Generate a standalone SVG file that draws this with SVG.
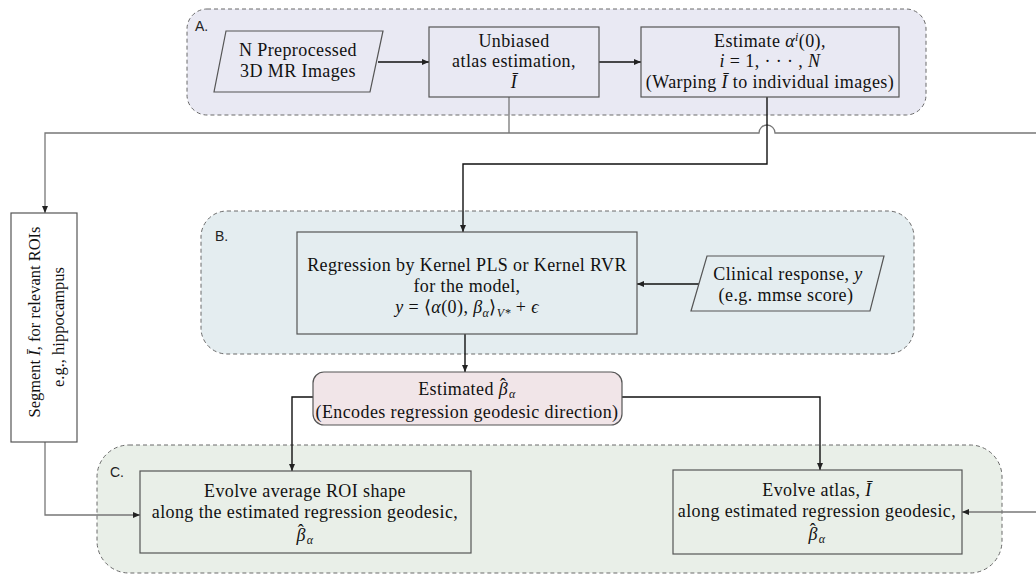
<svg xmlns="http://www.w3.org/2000/svg" width="1036" height="575" viewBox="0 0 1036 575">
<style>
.grp{stroke:#6a6a6a;stroke-width:1;stroke-dasharray:4,3}
.box{fill:none;stroke:#555;stroke-width:1.2}
.t{font-family:"Liberation Serif",serif;font-size:18px;letter-spacing:0.4px;fill:#111;text-anchor:middle}
.sg{font-size:16.5px;letter-spacing:0}
.lab{font-family:"Liberation Sans",sans-serif;font-size:14px;fill:#222}
.c{fill:none;stroke:#111;stroke-width:1.4}
.g{fill:none;stroke:#777;stroke-width:1.3}
.i{font-style:italic}
.s{font-size:12px;font-style:italic}
.h{font-size:18px;font-style:normal;letter-spacing:0}
</style>
<defs>
<marker id="ah" markerWidth="8" markerHeight="8" refX="7" refY="4" orient="auto" markerUnits="userSpaceOnUse">
<path d="M0,1 L7,4 L0,7 Z" fill="#222"/>
</marker>
</defs>
<rect width="1036" height="575" fill="#ffffff"/>
<g id="groupA">
<rect class="grp" x="187" y="9" width="739" height="106" rx="20" fill="#e9e9f3"/>
<text class="lab" x="195" y="31">A.</text>
</g>
<g id="groupB">
<rect class="grp" x="201" y="211" width="713" height="143" rx="26" fill="#e4edf0"/>
<text class="lab" x="215" y="241">B.</text>
</g>
<g id="groupC">
<rect class="grp" x="97" y="445" width="905" height="128" rx="32" fill="#e9efe8"/>
<text class="lab" x="110" y="477">C.</text>
</g>
<g id="connectors">
<line class="c" x1="378" y1="62" x2="429" y2="62" marker-end="url(#ah)"/>
<line class="c" x1="599" y1="62" x2="641" y2="62" marker-end="url(#ah)"/>
<path class="g" d="M509,97 V133"/>
<path class="g" d="M509,133 H45 V213" marker-end="url(#ah)"/>
<path class="g" d="M509,133 H759 A8,8 0 0 1 775,133 H1036"/>
<path class="c" d="M767,97 V164 H463 V232" marker-end="url(#ah)"/>
<line class="c" x1="699" y1="284" x2="637" y2="284" marker-end="url(#ah)"/>
<line class="c" x1="465" y1="334" x2="465" y2="372" marker-end="url(#ah)"/>
<path class="c" d="M313,397 H292 V471" marker-end="url(#ah)"/>
<path class="c" d="M622,397 H820 V470" marker-end="url(#ah)"/>
<path class="g" d="M45,442 V515 H140" marker-end="url(#ah)"/>
<line class="g" x1="1036" y1="512" x2="962" y2="512" marker-end="url(#ah)"/>
</g>
<g id="n1">
<polygon class="box" points="226,31 383,31 370,92 214,92"/>
<text class="t" x="298" y="56">N Preprocessed</text>
<text class="t" x="298" y="77">3D MR Images</text>
</g>
<g id="n2">
<rect class="box" x="429" y="27" width="170" height="70"/>
<text class="t" x="514" y="47">Unbiased</text>
<text class="t" x="514" y="67">atlas estimation,</text>
<text class="t" x="514" y="88"><tspan class="i">Ī</tspan></text>
</g>
<g id="n3">
<rect class="box" x="641" y="27" width="258" height="70"/>
<text class="t" x="770" y="47">Estimate <tspan class="i">α</tspan><tspan class="s" dy="-6">i</tspan><tspan dy="6">(0),</tspan></text>
<text class="t" x="770" y="67"><tspan class="i">i</tspan> = 1, · · · , <tspan class="i">N</tspan></text>
<text class="t" x="770" y="88">(Warping <tspan class="i">Ī</tspan> to individual images)</text>
</g>
<g id="nSeg">
<rect class="box" x="11" y="213" width="66" height="229"/>
<text class="t sg" transform="translate(40,322) rotate(-90)">Segment <tspan class="i">Ī</tspan>, for relevant ROIs</text>
<text class="t sg" transform="translate(64,327) rotate(-90)">e.g., hippocampus</text>
</g>
<g id="nReg">
<rect class="box" x="297" y="232" width="340" height="102"/>
<text class="t" x="467" y="271">Regression by Kernel PLS or Kernel RVR</text>
<text class="t" x="467" y="292">for the model,</text>
<text class="t" x="467" y="313"><tspan class="i">y</tspan> = ⟨<tspan class="i">α</tspan>(0), <tspan class="i">β</tspan><tspan class="s" dy="4">α</tspan><tspan dy="-4">⟩</tspan><tspan class="s" dy="4">V*</tspan><tspan dy="-4"> + </tspan><tspan class="i">ϵ</tspan></text>
</g>
<g id="nClin">
<polygon class="box" points="707,256 884,256 870,311 691,311"/>
<text class="t" x="788" y="280">Clinical response, <tspan class="i">y</tspan></text>
<text class="t" x="786" y="301">(e.g.  mmse score)</text>
</g>
<g id="nBeta">
<rect x="313" y="372" width="309" height="53" rx="11" fill="#f1e5e8" stroke="#555" stroke-width="1.2"/>
<text class="t" x="467" y="395">Estimated <tspan class="i">β</tspan><tspan class="h" dx="-8" dy="-4">ˆ</tspan><tspan class="s" dx="3" dy="7">α</tspan></text>
<text class="t" x="467" y="418">(Encodes regression geodesic direction)</text>
</g>
<g id="nRoi">
<rect class="box" x="140" y="471" width="331" height="82"/>
<text class="t" x="305" y="497">Evolve average ROI shape</text>
<text class="t" x="305" y="518">along the estimated regression geodesic,</text>
<text class="t" x="305" y="541"><tspan class="i">β</tspan><tspan class="h" dx="-8" dy="-4">ˆ</tspan><tspan class="s" dx="3" dy="7">α</tspan></text>
</g>
<g id="nAtlas">
<rect class="box" x="673" y="470" width="289" height="84"/>
<text class="t" x="817" y="496">Evolve atlas, <tspan class="i">Ī</tspan></text>
<text class="t" x="817" y="517">along estimated regression geodesic,</text>
<text class="t" x="817" y="540"><tspan class="i">β</tspan><tspan class="h" dx="-8" dy="-4">ˆ</tspan><tspan class="s" dx="3" dy="7">α</tspan></text>
</g>
</svg>
